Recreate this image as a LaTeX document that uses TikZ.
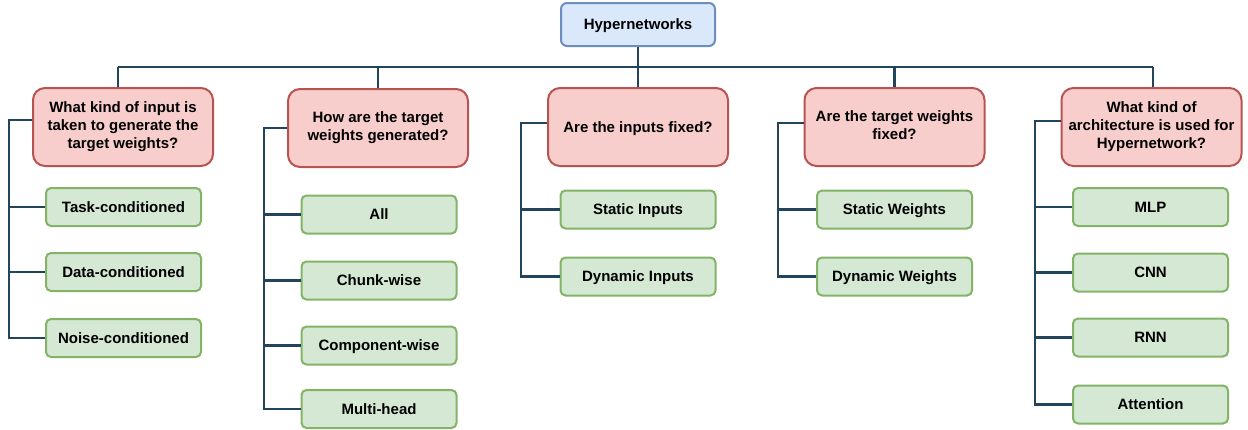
\documentclass[tikz,border=0pt]{standalone}
\usepackage{fontspec}
\setmainfont{Liberation Sans}
\definecolor{bfill}{HTML}{DAE8FC}
\definecolor{bdraw}{HTML}{6C8EBF}
\definecolor{rfill}{HTML}{F8CECC}
\definecolor{rdraw}{HTML}{B85450}
\definecolor{gfill}{HTML}{D5E8D4}
\definecolor{gdraw}{HTML}{82B366}
\definecolor{cline}{HTML}{23445D}
\newcommand\mystrut{\rule[-3.75pt]{0pt}{18.3pt}}
\tikzset{
  base/.style={inner sep=0pt, align=center, font=\fontsize{15}{18.3}\selectfont\bfseries, line width=2pt,
    execute at begin node=\mystrut, execute at end node=\mystrut},
  rootbox/.style={base, fill=bfill, draw=bdraw, rounded corners=6pt, minimum width=154pt, minimum height=43pt},
  catbox/.style={base, fill=rfill, draw=rdraw, rounded corners=12pt, minimum width=180pt, minimum height=78pt},
  leafbox/.style={base, fill=gfill, draw=gdraw, rounded corners=5pt, minimum width=155pt, minimum height=38pt},
  conn/.style={draw=cline, line width=2.2pt}
}
\begin{document}
\begin{tikzpicture}[x=1pt,y=-1pt]
\useasboundingbox (0,0) rectangle (1248,429);
% nodes
\node[rootbox] (root) at (638,24.5) {Hypernetworks};
\node[catbox] (c1) at (123,127) {What kind of input is\\taken to generate the\\target weights?};
\node[catbox] (c2) at (378,128) {How are the target\\weights generated?};
\node[catbox] (c3) at (638,127) {Are the inputs fixed?};
\node[catbox] (c4) at (894.5,127) {Are the target weights\\fixed?};
\node[catbox] (c5) at (1151.5,127) {What kind of\\architecture is used for\\Hypernetwork?};
% leaves
\node[leafbox] (l11) at (123.5,207) {Task-conditioned};
\node[leafbox] (l12) at (123.5,272) {Data-conditioned};
\node[leafbox] (l13) at (123.5,338) {Noise-conditioned};
\node[leafbox] (l21) at (379,214.5) {All};
\node[leafbox] (l22) at (379,280.5) {Chunk-wise};
\node[leafbox] (l23) at (379,345.5) {Component-wise};
\node[leafbox] (l24) at (379,409) {Multi-head};
\node[leafbox] (l31) at (638,209.5) {Static Inputs};
\node[leafbox] (l32) at (638,276.5) {Dynamic Inputs};
\node[leafbox] (l41) at (894.5,209.5) {Static Weights};
\node[leafbox] (l42) at (894.5,276.5) {Dynamic Weights};
\node[leafbox] (l51) at (1150.5,207) {MLP};
\node[leafbox] (l52) at (1150.5,272.5) {CNN};
\node[leafbox] (l53) at (1150.5,337.5) {RNN};
\node[leafbox] (l54) at (1150.5,404.5) {Attention};
% bus
\coordinate (busL) at (118,67);
\coordinate (busR) at (1153,67);
\draw[conn] (busL) -- (busR);
\draw[conn] (root.south) -- (root.south |- busL);
\draw[conn] (busL) -- (busL |- c1.north);
\draw[conn] (c2.north) -- (c2.north |- busL);
\draw[conn] (c3.north) -- (c3.north |- busL);
\draw[conn] (c4.north) -- (c4.north |- busL);
\draw[conn] (busR) -- (busR |- c5.north);
% branches
\coordinate (s1) at (9,120);
\draw[conn] (c1.west |- s1) -- (s1) |- (l13.west);
\draw[conn] (s1 |- l11.west) -- (l11.west);
\draw[conn] (s1 |- l12.west) -- (l12.west);
\coordinate (s2) at (264,128);
\draw[conn] (c2.west |- s2) -- (s2) |- (l24.west);
\draw[conn] (s2 |- l21.west) -- (l21.west);
\draw[conn] (s2 |- l22.west) -- (l22.west);
\draw[conn] (s2 |- l23.west) -- (l23.west);
\coordinate (s3) at (521,123);
\draw[conn] (c3.west |- s3) -- (s3) |- (l32.west);
\draw[conn] (s3 |- l31.west) -- (l31.west);
\coordinate (s4) at (778,123);
\draw[conn] (c4.west |- s4) -- (s4) |- (l42.west);
\draw[conn] (s4 |- l41.west) -- (l41.west);
\coordinate (s5) at (1035,121);
\draw[conn] (c5.west |- s5) -- (s5) |- (l54.west);
\draw[conn] (s5 |- l51.west) -- (l51.west);
\draw[conn] (s5 |- l52.west) -- (l52.west);
\draw[conn] (s5 |- l53.west) -- (l53.west);
\end{tikzpicture}
\end{document}
